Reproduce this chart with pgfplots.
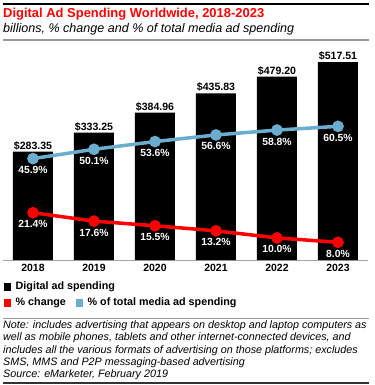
\documentclass[border=0pt]{standalone}
\usepackage{pgfplots}
\pgfplotsset{compat=1.18}
\usepackage{fontspec}
\setmainfont{Liberation Sans}
\definecolor{emred}{HTML}{FF0000}
\definecolor{emblue}{HTML}{6BADCF}
\begin{document}
\begin{tikzpicture}[x=1bp,y=1bp]
\useasboundingbox (0,0) rectangle (375,-385);
% header
\draw[line width=2bp,black] (3,-4) -- (369,-4);
\node[anchor=west,inner sep=0,font=\bfseries\fontsize{13}{15}\selectfont,text=emred] at (3,-14.5) {Digital Ad Spending Worldwide, 2018-2023};
\node[anchor=west,inner sep=0,font=\itshape\fontsize{12.6}{15}\selectfont] at (3,-29.5) {billions, \% change and \% of total media ad spending};
\draw[line width=1.2bp,gray!80] (3,-40) -- (369,-40);

\pgfplotstableread{
x val
0 283.35
1 333.25
2 384.96
3 435.83
4 479.20
5 517.51
}\spend
\pgfplotstableread{
x val
0 21.4
1 17.6
2 15.5
3 13.2
4 10.0
5 8.0
}\change
\pgfplotstableread{
x val
0 45.9
1 50.1
2 53.6
3 56.6
4 58.8
5 60.5
}\share

\begin{axis}[
  at={(2.5bp,-260bp)}, anchor=south west,
  scale only axis, width=366bp, height=206.6bp,
  xmin=-0.5, xmax=5.5, ymin=0, ymax=540,
  axis x line=bottom, axis y line=none,
  x axis line style={-, draw=gray!70, line width=1bp},
  xtick={0,...,5}, xticklabels={2018,2019,2020,2021,2022,2023},
  xtick style={draw=none},
  xticklabel style={font=\bfseries\fontsize{10.5}{12}\selectfont, yshift=1bp},
  ytick=\empty,
  /pgf/number format/assume math mode=true,
  clip=false,
]
\addplot[ybar, bar width=40bp, fill=black, draw=none,
  nodes near coords={\$\pgfmathprintnumber[fixed,precision=2,fixed zerofill]{\pgfplotspointmeta}},
  every node near coord/.append style={font=\bfseries\fontsize{10.6}{12}\selectfont, inner sep=1.5bp, anchor=south}]
  table[x=x,y=val]{\spend};
\end{axis}

\begin{axis}[
  at={(2.5bp,-260bp)}, anchor=south west,
  scale only axis, width=366bp, height=206.6bp,
  xmin=-0.5, xmax=5.5, ymin=0, ymax=93.5,
  hide axis,
  /pgf/number format/assume math mode=true,
  clip=false,
]
\addplot[emblue, line width=3.5bp, mark=*, mark size=4bp,
  nodes near coords={\pgfmathprintnumber[fixed,precision=1,fixed zerofill]{\pgfplotspointmeta}\%},
  every node near coord/.append style={font=\bfseries\fontsize{10.4}{12}\selectfont, text=white, anchor=north, inner sep=1bp, yshift=-5bp}]
  table[x=x,y=val]{\share};
\addplot[emred, line width=3.5bp, mark=*, mark size=4bp,
  nodes near coords={\pgfmathprintnumber[fixed,precision=1,fixed zerofill]{\pgfplotspointmeta}\%},
  every node near coord/.append style={font=\bfseries\fontsize{10.4}{12}\selectfont, text=white, anchor=north, inner sep=1bp, yshift=-5bp}]
  table[x=x,y=val]{\change};
\end{axis}

% legend
\fill[black] (4,-283) rectangle (11,-291);
\node[anchor=west,inner sep=0,font=\bfseries\fontsize{10.8}{12}\selectfont] at (15.5,-287) {Digital ad spending};
\fill[emred] (4,-298.5) rectangle (11,-306.5);
\node[anchor=west,inner sep=0,font=\bfseries\fontsize{10.8}{12}\selectfont] at (15.5,-302.5) {\% change};
\fill[emblue] (76,-298.5) rectangle (83,-306.5);
\node[anchor=west,inner sep=0,font=\bfseries\fontsize{10.8}{12}\selectfont] at (87.5,-302.5) {\% of total media ad spending};

% note
\draw[line width=1bp,gray!80] (3,-318) -- (369,-318);
\node[anchor=north west,inner sep=0,font=\itshape\fontsize{10.8}{12.3}\selectfont, align=left] at (3,-320.5) {Note: includes advertising that appears on desktop and laptop computers as\\
well as mobile phones, tablets and other internet-connected devices, and\\
includes all the various formats of advertising on those platforms; excludes\\
SMS, MMS and P2P messaging-based advertising\\
Source: eMarketer, February 2019};
\draw[line width=1.2bp,black!80] (3,-383) -- (369,-383);
\end{tikzpicture}
\end{document}
